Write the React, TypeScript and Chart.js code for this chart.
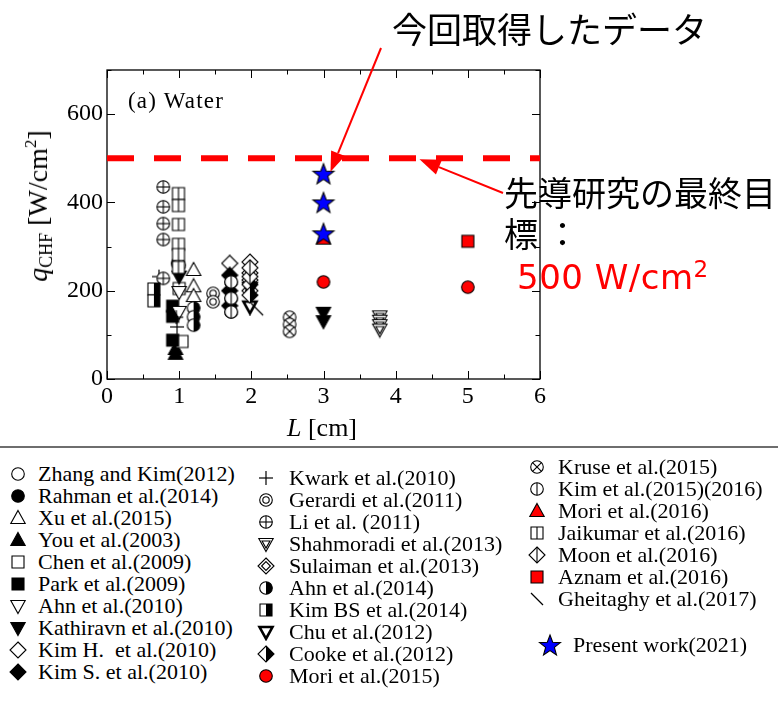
import React, { useEffect, useMemo, useRef } from 'react';
import { Chart, registerables } from 'chart.js';
Chart.register(...registerables);

type P = { x: number; y: number };

// ---- axis / tick values ----
const xLabelValues = [0, 1, 2, 3, 4, 5, 6];
const yLabelValues = [0, 200, 400, 600];
const xMinorStep = 0.5;
const yMinorStep = 100;
const targetLevel: P[] = [{ x: 0, y: 500 }, { x: 6, y: 500 }];

// ---- series values (L [cm], qCHF [W/cm2]) ----
const zhangKim: P[] = [{ x: 1.72, y: 220 }, { x: 1.72, y: 183 }, { x: 1.72, y: 152 }];
const rahman: P[] = [{ x: 0.98, y: 262 }];
const xu: P[] = [{ x: 1.2, y: 247 }, { x: 1.2, y: 210 }, { x: 1.2, y: 188 }];
const you: P[] = [{ x: 0.95, y: 68 }, { x: 0.95, y: 57 }];
const chen: P[] = [{ x: 1.04, y: 85 }, { x: 1.0, y: 205 }];
const park: P[] = [{ x: 0.91, y: 165 }, { x: 0.91, y: 142 }, { x: 0.91, y: 88 }];
const ahn2010: P[] = [{ x: 1.0, y: 197 }, { x: 1.0, y: 152 }];
const kathiravn: P[] = [{ x: 1.0, y: 232 }, { x: 3.0, y: 150 }, { x: 3.0, y: 131 }];
const kimH: P[] = [{ x: 1.7, y: 262 }, { x: 1.98, y: 265 }];
const kimS: P[] = [{ x: 1.7, y: 235 }, { x: 1.7, y: 200 }, { x: 1.7, y: 166 }];
const kwark: P[] = [{ x: 0.72, y: 232 }, { x: 0.96, y: 140 }, { x: 0.97, y: 118 }];
const gerardi: P[] = [{ x: 1.47, y: 194 }, { x: 1.47, y: 175 }];
const li: P[] = [{ x: 0.78, y: 435 }, { x: 0.78, y: 390 }, { x: 0.78, y: 352 }, { x: 0.78, y: 316 }, { x: 0.78, y: 228 }];
const shahmoradi: P[] = [{ x: 3.78, y: 142 }, { x: 3.78, y: 132 }, { x: 3.78, y: 122 }, { x: 3.78, y: 112 }];
const sulaiman: P[] = [{ x: 1.98, y: 240 }, { x: 1.98, y: 224 }, { x: 1.98, y: 200 }];
const ahn2014: P[] = [{ x: 1.2, y: 161 }, { x: 1.2, y: 141 }, { x: 1.2, y: 122 }];
const kimBS: P[] = [{ x: 0.65, y: 204 }, { x: 0.65, y: 177 }];
const chu: P[] = [{ x: 1.98, y: 206 }, { x: 1.98, y: 164 }];
const cooke: P[] = [{ x: 1.98, y: 214 }, { x: 1.98, y: 190 }];
const mori2015: P[] = [{ x: 3.0, y: 220 }, { x: 5.0, y: 208 }];
const kruse: P[] = [{ x: 2.53, y: 140 }, { x: 2.53, y: 124 }, { x: 2.53, y: 108 }];
const kim2015: P[] = [{ x: 1.72, y: 220 }, { x: 1.72, y: 183 }, { x: 1.72, y: 152 }, { x: 1.0, y: 258 }];
const mori2016: P[] = [{ x: 3.0, y: 318 }];
const jaikumar: P[] = [{ x: 0.99, y: 420 }, { x: 0.99, y: 393 }, { x: 0.99, y: 350 }, { x: 0.99, y: 305 }, { x: 0.99, y: 282 }, { x: 0.99, y: 253 }];
const moon: P[] = [{ x: 1.98, y: 232 }, { x: 1.98, y: 252 }];
const aznam: P[] = [{ x: 5.0, y: 312 }];
const gheitaghy: P[] = [{ x: 2.08, y: 158 }];
const presentWork: P[] = [{ x: 3.0, y: 465 }, { x: 3.0, y: 400 }, { x: 3.0, y: 330 }];

const legendCol1 = [
  { label: 'Zhang and Kim(2012)', sym: 'circleOpen', data: zhangKim },
  { label: 'Rahman et al.(2014)', sym: 'circleFilled', data: rahman },
  { label: 'Xu et al.(2015)', sym: 'triUpOpen', data: xu },
  { label: 'You et al.(2003)', sym: 'triUpFilled', data: you },
  { label: 'Chen et al.(2009)', sym: 'squareOpen', data: chen },
  { label: 'Park et al.(2009)', sym: 'squareFilled', data: park },
  { label: 'Ahn et al.(2010)', sym: 'triDownOpen', data: ahn2010 },
  { label: 'Kathiravn et al.(2010)', sym: 'triDownFilled', data: kathiravn },
  { label: 'Kim H.  et al.(2010)', sym: 'diamondOpen', data: kimH },
  { label: 'Kim S. et al.(2010)', sym: 'diamondFilled', data: kimS },
];
const legendCol2 = [
  { label: 'Kwark et al.(2010)', sym: 'plus', data: kwark },
  { label: 'Gerardi et al.(2011)', sym: 'dblCircle', data: gerardi },
  { label: 'Li et al. (2011)', sym: 'circlePlus', data: li },
  { label: 'Shahmoradi et al.(2013)', sym: 'dblTriDown', data: shahmoradi },
  { label: 'Sulaiman et al.(2013)', sym: 'dblDiamond', data: sulaiman },
  { label: 'Ahn et al.(2014)', sym: 'circleHalf', data: ahn2014 },
  { label: 'Kim BS et al.(2014)', sym: 'squareHalf', data: kimBS },
  { label: 'Chu et al.(2012)', sym: 'triDownThick', data: chu },
  { label: 'Cooke et al.(2012)', sym: 'diamondHalf', data: cooke },
  { label: 'Mori et al.(2015)', sym: 'circleRed', data: mori2015 },
];
const legendCol3 = [
  { label: 'Kruse et al.(2015)', sym: 'circleX', data: kruse },
  { label: 'Kim et al.(2015)(2016)', sym: 'circleVLine', data: kim2015 },
  { label: 'Mori et al.(2016)', sym: 'triRed', data: mori2016 },
  { label: 'Jaikumar et al.(2016)', sym: 'squareVLine', data: jaikumar },
  { label: 'Moon et al.(2016)', sym: 'diamondVLine', data: moon },
  { label: 'Aznam et al.(2016)', sym: 'squareRed', data: aznam },
  { label: 'Gheitaghy et al.(2017)', sym: 'backslash', data: gheitaghy },
];
const presentEntry = { label: 'Present work(2021)', sym: 'star', data: presentWork };

const SERIF = "'Liberation Serif', 'Times New Roman', serif";
const JP = "'Noto Sans CJK JP', 'Noto Sans', sans-serif";

function makeIcon(kind: string): HTMLCanvasElement {
  const size = kind === 'star' ? 26 : 18;
  const c = document.createElement('canvas');
  c.width = size;
  c.height = size;
  const ctx = c.getContext('2d') as CanvasRenderingContext2D;
  const cx = size / 2, cy = size / 2;
  ctx.lineWidth = 1.1;
  ctx.strokeStyle = '#000';
  ctx.fillStyle = '#fff';
  const circle = (rr: number) => { ctx.beginPath(); ctx.arc(cx, cy, rr, 0, Math.PI * 2); };
  const poly = (pts: number[][]) => {
    ctx.beginPath();
    pts.forEach(([x, y], i) => (i ? ctx.lineTo(cx + x, cy + y) : ctx.moveTo(cx + x, cy + y)));
    ctx.closePath();
  };
  const triUp = (k = 1) => poly([[0, -7.5 * k], [7.2 * k, 5.5 * k], [-7.2 * k, 5.5 * k]]);
  const triDown = (k = 1) => poly([[0, 7.5 * k], [7.2 * k, -5.5 * k], [-7.2 * k, -5.5 * k]]);
  const sq = (h = 6) => poly([[-h, -h], [h, -h], [h, h], [-h, h]]);
  const dia = (k = 1) => poly([[0, -8 * k], [8 * k, 0], [0, 8 * k], [-8 * k, 0]]);
  const line = (x1: number, y1: number, x2: number, y2: number) => {
    ctx.beginPath(); ctx.moveTo(cx + x1, cy + y1); ctx.lineTo(cx + x2, cy + y2); ctx.stroke();
  };
  const openShape = (f: () => void) => { f(); ctx.fillStyle = '#fff'; ctx.fill(); ctx.stroke(); };
  const filledShape = (f: () => void, col = '#000') => { f(); ctx.fillStyle = col; ctx.fill(); ctx.stroke(); };
  const halfShape = (f: () => void) => {
    f(); ctx.fillStyle = '#fff'; ctx.fill();
    ctx.save(); f(); ctx.clip(); ctx.fillStyle = '#000'; ctx.fillRect(cx, 0, size, size); ctx.restore();
    f(); ctx.stroke();
  };
  const R = 6.3;
  switch (kind) {
    case 'circleOpen': openShape(() => circle(R)); break;
    case 'circleFilled': filledShape(() => circle(R)); break;
    case 'triUpOpen': openShape(() => triUp()); break;
    case 'triUpFilled': filledShape(() => triUp()); break;
    case 'squareOpen': openShape(() => sq()); break;
    case 'squareFilled': filledShape(() => sq()); break;
    case 'triDownOpen': openShape(() => triDown()); break;
    case 'triDownFilled': filledShape(() => triDown()); break;
    case 'diamondOpen': openShape(() => dia()); break;
    case 'diamondFilled': filledShape(() => dia()); break;
    case 'plus': ctx.lineWidth = 1.2; line(-7, 0, 7, 0); line(0, -7, 0, 7); break;
    case 'dblCircle': openShape(() => circle(R)); circle(3.2); ctx.stroke(); break;
    case 'circlePlus': openShape(() => circle(R)); line(-R, 0, R, 0); line(0, -R, 0, R); break;
    case 'dblTriDown': openShape(() => triDown()); triDown(0.55); ctx.stroke(); break;
    case 'dblDiamond': openShape(() => dia()); dia(0.55); ctx.stroke(); break;
    case 'circleHalf': halfShape(() => circle(R)); break;
    case 'squareHalf': halfShape(() => sq()); break;
    case 'triDownThick': ctx.lineWidth = 2.6; openShape(() => triDown(0.9)); ctx.lineWidth = 1.1; break;
    case 'diamondHalf': halfShape(() => dia()); break;
    case 'circleRed': filledShape(() => circle(R), '#ff0000'); break;
    case 'circleX': {
      openShape(() => circle(R));
      const d = R * 0.7071;
      line(-d, -d, d, d); line(-d, d, d, -d);
      break;
    }
    case 'circleVLine': openShape(() => circle(R)); line(0, -R, 0, R); break;
    case 'triRed': filledShape(() => triUp(), '#ff0000'); break;
    case 'squareVLine': openShape(() => sq()); line(0, -6, 0, 6); break;
    case 'diamondVLine': openShape(() => dia()); line(0, -8, 0, 8); break;
    case 'squareRed': filledShape(() => sq(), '#ff0000'); break;
    case 'backslash': ctx.lineWidth = 1.2; line(-6, -6, 6, 6); break;
    case 'star': {
      const pts: number[][] = [];
      for (let i = 0; i < 10; i++) {
        const rr = i % 2 === 0 ? 11 : 4.6;
        const a = -Math.PI / 2 + (i * Math.PI) / 5;
        pts.push([rr * Math.cos(a), rr * Math.sin(a) + 1]);
      }
      filledShape(() => poly(pts), '#0000ff');
      break;
    }
  }
  return c;
}

function drawArrow(ctx: CanvasRenderingContext2D, x1: number, y1: number, x2: number, y2: number, hl: number, hw: number) {
  const ang = Math.atan2(y2 - y1, x2 - x1);
  const bx = x2 - hl * Math.cos(ang), by = y2 - hl * Math.sin(ang);
  ctx.beginPath(); ctx.moveTo(x1, y1); ctx.lineTo(bx, by); ctx.stroke();
  ctx.beginPath();
  ctx.moveTo(x2, y2);
  ctx.lineTo(bx + (hw / 2) * Math.sin(ang), by - (hw / 2) * Math.cos(ang));
  ctx.lineTo(bx - (hw / 2) * Math.sin(ang), by + (hw / 2) * Math.cos(ang));
  ctx.closePath(); ctx.fill();
}

const framePlugin = {
  id: 'frameTicks',
  beforeDatasetsDraw(chart: any) {
    const { ctx, chartArea: a, scales } = chart;
    const xs = scales.x, ys = scales.y;
    ctx.save();
    ctx.strokeStyle = '#000';
    ctx.lineWidth = 1.3;
    ctx.strokeRect(a.left, a.top, a.right - a.left, a.bottom - a.top);
    ctx.lineWidth = 1;
    const seg = (x1: number, y1: number, x2: number, y2: number) => { ctx.beginPath(); ctx.moveTo(x1, y1); ctx.lineTo(x2, y2); ctx.stroke(); };
    for (let v = xs.min; v <= xs.max + 1e-9; v += xMinorStep) {
      const px = Math.round(xs.getPixelForValue(v)) + 0.5;
      const len = xLabelValues.includes(Math.round(v * 100) / 100) ? 8 : 4.5;
      seg(px, a.bottom, px, a.bottom - len);
      seg(px, a.top, px, a.top + len);
    }
    for (let v = ys.min; v <= ys.max + 1e-9; v += yMinorStep) {
      const py = Math.round(ys.getPixelForValue(v)) + 0.5;
      const len = v % 200 === 0 ? 8 : 4.5;
      seg(a.left, py, a.left + len, py);
      seg(a.right, py, a.right - len, py);
    }
    ctx.restore();
  },
  afterDatasetsDraw(chart: any) {
    const { ctx, scales } = chart;
    const xs = scales.x, ys = scales.y;
    ctx.save();
    ctx.strokeStyle = '#ff0000';
    ctx.fillStyle = '#ff0000';
    ctx.lineWidth = 2;
    const s = presentWork[0];
    drawArrow(ctx, 381, 48, xs.getPixelForValue(s.x) + 7, ys.getPixelForValue(s.y) - 2, 20, 15);
    drawArrow(ctx, 503, 193, xs.getPixelForValue(4.33), ys.getPixelForValue(targetLevel[0].y) + 1, 21, 16);
    ctx.restore();
  },
};

export default function App() {
  const ref = useRef<HTMLCanvasElement | null>(null);
  const allSeries = [...legendCol1, ...legendCol2, ...legendCol3];
  const iconUrls = useMemo(() => {
    const m: Record<string, string> = {};
    [...allSeries, presentEntry].forEach((s) => { m[s.sym] = makeIcon(s.sym).toDataURL(); });
    return m;
  }, []);

  useEffect(() => {
    if (!ref.current) return;
    const reds = ['circleRed', 'triRed', 'squareRed'];
    const ordered = [
      presentEntry,
      ...allSeries.filter((s) => s.sym === 'triRed'),
      ...allSeries.filter((s) => reds.includes(s.sym) && s.sym !== 'triRed'),
      ...allSeries.filter((s) => !reds.includes(s.sym)).reverse(),
    ];
    const datasets: any[] = ordered.map((s) => ({
      type: 'scatter',
      label: s.label,
      data: s.data,
      pointStyle: makeIcon(s.sym),
      pointRadius: 7,
      showLine: false,
    }));
    datasets.push({
      type: 'line',
      label: 'target',
      data: targetLevel,
      borderColor: '#ff0000',
      borderWidth: 6,
      borderDash: [27, 20],
      pointRadius: 0,
      fill: false,
    });
    const chart = new Chart(ref.current, {
      type: 'scatter',
      data: { datasets },
      options: {
        animation: false,
        responsive: false,
        maintainAspectRatio: false,
        devicePixelRatio: 1,
        layout: { padding: { top: 70, right: 238, left: 0, bottom: 0 } },
        plugins: { legend: { display: false }, tooltip: { enabled: false } },
        scales: {
          x: {
            type: 'linear', min: 0, max: 6,
            afterFit: (sc: any) => { sc.height = 68; },
            grid: { display: false, drawTicks: false },
            border: { display: false },
            ticks: {
              stepSize: 1, autoSkip: false, maxRotation: 0, padding: 3, color: '#000',
              font: { family: SERIF, size: 24 },
              callback: (v: any) => (xLabelValues.includes(Number(v)) ? String(v) : ''),
            },
          },
          y: {
            type: 'linear', min: 0, max: 700,
            afterFit: (sc: any) => { sc.width = 107; },
            grid: { display: false, drawTicks: false },
            border: { display: false },
            ticks: {
              stepSize: 100, autoSkip: false, padding: 4, color: '#000',
              font: { family: SERIF, size: 24 },
              callback: (v: any) => (yLabelValues.includes(Number(v)) ? String(v) : ''),
            },
          },
        },
      } as any,
      plugins: [framePlugin as any],
    });
    return () => chart.destroy();
  }, []);

  const legendRow = (s: any, left: number, top: number, iconX: number, key: string) => (
    <div key={key} style={{ position: 'absolute', left: 0, top: top - 11, height: 22, width: 778 }}>
      <img src={iconUrls[s.sym]} style={{ position: 'absolute', left: iconX - (s.sym === 'star' ? 13 : 9), top: s.sym === 'star' ? -2 : 2 }} />
      <span style={{ position: 'absolute', left, top: 0, fontFamily: SERIF, fontSize: 22, lineHeight: '22px', whiteSpace: 'pre', color: '#000' }}>{s.label}</span>
    </div>
  );

  return (
    <div style={{ position: 'absolute', left: 0, top: 0, width: 778, height: 710, background: '#fff', overflow: 'hidden' }}>
      <canvas ref={ref} width={778} height={447} style={{ position: 'absolute', left: 0, top: 0, width: 778, height: 447 }} />
      <div style={{ position: 'absolute', left: 128, top: 88, fontFamily: SERIF, fontSize: 23, letterSpacing: 1.2, lineHeight: '26px', whiteSpace: 'nowrap' }}>(a) Water</div>
      <div style={{ position: 'absolute', left: 322, top: 428, transform: 'translate(-50%, -50%)', fontFamily: SERIF, fontSize: 26, whiteSpace: 'nowrap', lineHeight: '28px' }}>
        <i>L</i> [cm]
      </div>
      <div style={{ position: 'absolute', left: 40, top: 206, transform: 'translate(-50%, -50%) rotate(-90deg)', fontFamily: SERIF, fontSize: 28, whiteSpace: 'nowrap', lineHeight: '32px' }}>
        <i>q</i><span style={{ fontSize: 18, position: 'relative', top: 5 }}>CHF</span> [W/cm<span style={{ fontSize: 17, position: 'relative', top: -11 }}>2</span>]
      </div>
      <div style={{ position: 'absolute', left: 392, top: 7, fontFamily: JP, fontSize: 35, lineHeight: '42px', whiteSpace: 'nowrap', color: '#000' }}>今回取得したデータ</div>
      <div style={{ position: 'absolute', left: 504, top: 171, fontFamily: JP, fontSize: 34, lineHeight: '41px', whiteSpace: 'nowrap', color: '#000' }}>
        先導研究の最終目<br />標 ：
      </div>
      <div style={{ position: 'absolute', left: 517, top: 256, fontFamily: "'DejaVu Sans', sans-serif", fontSize: 34, letterSpacing: 0.5, lineHeight: '42px', whiteSpace: 'nowrap', color: '#ff0000' }}>
        500 W/cm<span style={{ fontSize: 23, position: 'relative', top: -12 }}>2</span>
      </div>
      <div style={{ position: 'absolute', left: 0, top: 446, width: 778, height: 2, background: '#6e6e6e' }} />
      {legendCol1.map((s, i) => legendRow(s, 38, 474 + i * 22, 18, 'a' + i))}
      {legendCol2.map((s, i) => legendRow(s, 289, 478 + i * 22, 266, 'b' + i))}
      {legendCol3.map((s, i) => legendRow(s, 558, 467 + i * 22, 537, 'c' + i))}
      {legendRow(presentEntry, 573, 645, 550, 'p')}
    </div>
  );
}
